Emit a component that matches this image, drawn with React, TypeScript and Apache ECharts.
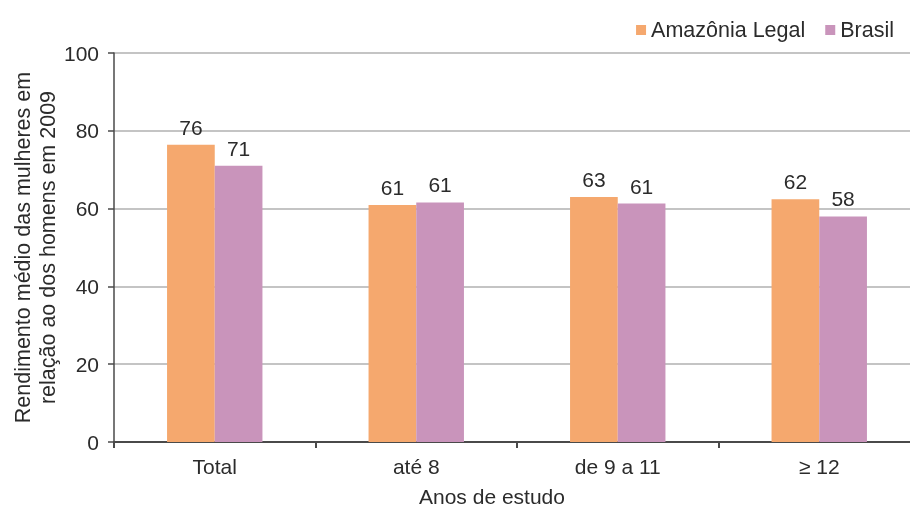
import React, { useEffect, useRef } from "react";
import * as echarts from "echarts";

const categories = ["Total", "até 8", "de 9 a 11", "≥ 12"];
const amazoniaLegal = [76.4, 60.9, 63.0, 62.4];
const brasil = [71.0, 61.6, 61.3, 58.0];
const amazoniaLabels = ["76", "61", "63", "62"];
const brasilLabels = ["71", "61", "61", "58"];
const yTicks = { min: 0, max: 100, interval: 20 };

const FONT = "'Liberation Sans', Arial, Helvetica, sans-serif";
const TEXT = "#2b2b2b";
const FS = 21;

export default function App() {
  const ref = useRef<HTMLDivElement>(null);
  useEffect(() => {
    if (!ref.current) return;
    const chart = echarts.init(ref.current, null, { renderer: "svg" });
    chart.setOption({
      animation: false,
      textStyle: { fontFamily: FONT },
      legend: {
        right: 31,
        top: 14,
        itemWidth: 10,
        itemHeight: 10,
        itemGap: 20,
        icon: "rect",
        textStyle: { fontFamily: FONT, fontSize: 21.5, color: TEXT },
        data: ["Amazônia Legal", "Brasil"],
      },
      grid: { left: 114, top: 53, bottom: 69, width: 806, outerBoundsMode: "none", containLabel: false },
      xAxis: {
        type: "category",
        data: categories,
        axisLine: { lineStyle: { color: "#4a4a4a", width: 2 } },
        axisTick: { show: true, length: 6, lineStyle: { color: "#4a4a4a", width: 2 } },
        axisLabel: { fontFamily: FONT, fontSize: FS, color: TEXT, margin: 14 },
      },
      yAxis: {
        type: "value",
        min: yTicks.min,
        max: yTicks.max,
        interval: yTicks.interval,
        name: "Rendimento médio das mulheres em\nrelação ao dos homens em 2009",
        nameLocation: "middle",
        nameGap: 54,
        nameMoveOverlap: false,
        nameTextStyle: { fontFamily: FONT, fontSize: 21.5, color: TEXT, lineHeight: 25, align: "center" },
        axisLine: { show: true, lineStyle: { color: "#4a4a4a", width: 1.5 } },
        axisTick: { show: true, length: 6, lineStyle: { color: "#4a4a4a", width: 1.5 } },
        axisLabel: { fontFamily: FONT, fontSize: FS, color: TEXT, margin: 15 },
        splitLine: { show: true, lineStyle: { color: "#c4c4c4", width: 2 } },
      },
      graphic: [
        {
          type: "text",
          left: 419,
          top: 486,
          style: { text: "Anos de estudo", fontFamily: FONT, fontSize: FS, fill: TEXT },
        },
      ],
      series: [
        {
          name: "Amazônia Legal",
          type: "bar",
          data: amazoniaLegal,
          barWidth: 47.7,
          barGap: "0%",
          itemStyle: { color: "#F5A86E" },
          label: {
            show: true,
            position: "top",
            distance: 7,
            fontFamily: FONT,
            fontSize: FS,
            color: TEXT,
            formatter: (p: any) => amazoniaLabels[p.dataIndex],
          },
        },
        {
          name: "Brasil",
          type: "bar",
          data: brasil,
          barWidth: 47.7,
          barGap: "0%",
          itemStyle: { color: "#C994BB" },
          label: {
            show: true,
            position: "top",
            distance: 7,
            fontFamily: FONT,
            fontSize: FS,
            color: TEXT,
            formatter: (p: any) => brasilLabels[p.dataIndex],
          },
        },
      ],
    });
    return () => chart.dispose();
  }, []);
  return (
    <div style={{ width: 910, height: 511, position: "fixed", left: 0, top: 0, overflow: "hidden" }}>
      <div ref={ref} style={{ width: 930, height: 511 }} />
    </div>
  );
}
